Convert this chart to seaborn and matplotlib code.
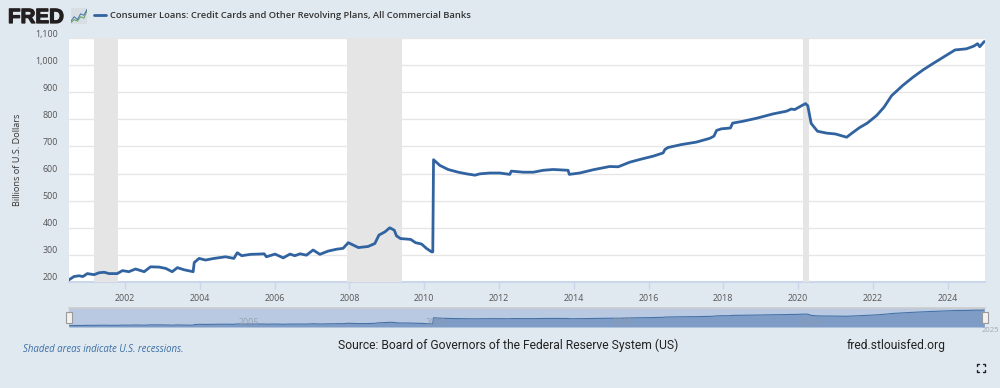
import pandas as pd
import seaborn as sns
import matplotlib
matplotlib.use('Agg')
import matplotlib.pyplot as plt
import matplotlib.patheffects as pe
from matplotlib.patches import Rectangle
from matplotlib.transforms import ScaledTranslation

# values, year as decimal
years = [2000.5, 2000.63, 2000.77, 2000.87, 2000.99, 2001.17, 2001.30, 2001.44, 2001.57, 2001.79,
         2001.93, 2002.10, 2002.28, 2002.51, 2002.68, 2002.91, 2003.09, 2003.26, 2003.40, 2003.58,
         2003.82, 2003.85, 2003.98, 2004.15, 2004.38, 2004.69, 2004.91, 2005.0, 2005.12, 2005.36,
         2005.58, 2005.72, 2005.78, 2006.01, 2006.23, 2006.41, 2006.54, 2006.68, 2006.85, 2007.03,
         2007.21, 2007.43, 2007.66, 2007.83, 2007.97, 2008.24, 2008.5, 2008.68, 2008.79, 2008.95,
         2009.08, 2009.2, 2009.26, 2009.37, 2009.48, 2009.64, 2009.77, 2009.93, 2010.06, 2010.2,
         2010.23, 2010.25, 2010.42, 2010.64, 2010.91, 2011.13, 2011.36, 2011.49, 2011.76, 2012.02,
         2012.29, 2012.33, 2012.65, 2012.92, 2013.18, 2013.45, 2013.85, 2013.88, 2014.16, 2014.52,
         2014.96, 2015.19, 2015.5, 2015.77, 2016.12, 2016.39, 2016.44, 2016.52, 2016.88, 2017.28,
         2017.64, 2017.75, 2017.82, 2017.95, 2018.19, 2018.25, 2018.53, 2018.89, 2019.33, 2019.69,
         2019.82, 2019.91, 2020.13, 2020.2, 2020.26, 2020.35, 2020.52, 2020.77, 2021.0, 2021.3,
         2021.45, 2021.65, 2021.85, 2022.1, 2022.3, 2022.5, 2022.8, 2023.07, 2023.35, 2023.6,
         2023.87, 2024.2, 2024.5, 2024.7, 2024.8, 2024.86, 2024.98]
loans = [208, 220, 223, 220, 231, 227, 234, 236, 231, 231,
         242, 238, 248, 238, 256, 255, 250, 238, 253, 245,
         238, 272, 287, 281, 287, 293, 287, 308, 297, 302,
         303, 304, 293, 303, 289, 303, 297, 304, 299, 318,
         302, 314, 321, 324, 345, 327, 331, 342, 373, 385,
         400, 391, 370, 360, 359, 357, 345, 340, 324, 311,
         311, 651, 630, 615, 605, 599, 594, 599, 602, 602,
         597, 609, 605, 605, 612, 615, 612, 597, 602, 614,
         626, 625, 642, 652, 664, 676, 689, 696, 707, 716,
         730, 738, 759, 765, 768, 786, 793, 804, 820, 830,
         838, 836, 853, 858, 850, 785, 756, 749, 746, 734,
         750, 770, 786, 814, 845, 887, 925, 955, 983, 1005,
         1028, 1056, 1060, 1070, 1079, 1068, 1087]
recessions = [(2001.17, 2001.81), (2007.93, 2009.42), (2020.12, 2020.3)]
year_ticks = list(range(2002, 2025, 2))
value_ticks = list(range(200, 1101, 100))
nav_years = [2005, 2010, 2015, 2020]
series_name = 'Consumer Loans: Credit Cards and Other Revolving Plans, All Commercial Banks'

df = pd.DataFrame({'year': years, 'loans': loans})

W, H = 1000, 388
BG = '#e1e9f0'
LINE = '#30639f'
AXIS = '#ccd6eb'


def box(x0, y0, x1, y1):
    # pixel box from the top left to figure fractions
    return [x0 / W, 1 - y1 / H, (x1 - x0) / W, (y1 - y0) / H]


sns.set_theme(style='white')
plt.rcParams['font.family'] = ['Open Sans', 'DejaVu Sans']

fig = plt.figure(figsize=(10, 3.88), dpi=100, facecolor=BG)

# main chart
ax = fig.add_axes(box(69, 38, 985, 282), facecolor='white')
sns.lineplot(data=df, x='year', y='loans', ax=ax, color=LINE, linewidth=2, label=series_name,
             estimator=None, sort=False, zorder=4)
for start, end in recessions:
    ax.axvspan(start, end, color='#e5e5e5', lw=0, zorder=3)
ax.set_xlim(2000.5, 2025.0)
ax.set_ylim(200, 1100)
ax.set_xticks(year_ticks)
ax.set_yticks(value_ticks)
ax.set_yticklabels([f'{v:,}' for v in value_ticks])
ax.set_xlabel('')
ax.set_ylabel('Billions of U.S. Dollars', fontsize=6.6, color='#333333', labelpad=0)
ax.yaxis.set_label_coords(-47 / 916, 0.5)
ax.grid(axis='y', color='#e6e6e6', lw=1)
ax.set_axisbelow(True)
ax.tick_params(axis='x', length=5, width=1, color=AXIS, labelsize=6.4, labelcolor='#555555', pad=3.5, bottom=True)
ax.tick_params(axis='y', length=0, labelsize=6.4, labelcolor='#555555', pad=8)
for lab in ax.get_yticklabels():
    lab.set_transform(lab.get_transform() + ScaledTranslation(0, 3.6 / 72, fig.dpi_scale_trans))
for side in ['top', 'left', 'right']:
    ax.spines[side].set_visible(False)
ax.spines['bottom'].set_color(AXIS)
ax.spines['bottom'].set_linewidth(1.5)

ax.legend(loc='center left', bbox_to_anchor=(94 / W, 1 - 16 / H), bbox_transform=fig.transFigure,
          frameon=False, handlelength=1.27, handletextpad=0.42, borderpad=0, borderaxespad=0,
          labelcolor='#333333', prop={'size': 6.75, 'weight': 600})

# navigator strip
nav = fig.add_axes(box(69, 308, 985, 327), facecolor='#b9c9e1')
nav.fill_between(years, loans, 137, color='#7f9cc7', lw=0)
sns.lineplot(data=df, x='year', y='loans', ax=nav, color='#4572a7', linewidth=0.8, estimator=None, sort=False,
             legend=False)
nav.set_xlim(2000.5, 2025.0)
nav.set_ylim(137, 1197)
nav.set_xticks([])
nav.set_yticks([])
nav.set_xlabel('')
nav.set_ylabel('')
for side in nav.spines:
    nav.spines[side].set_visible(False)
nav.spines['top'].set_visible(True)
nav.spines['top'].set_color('#cccccc')
nav.spines['top'].set_linewidth(1.2)
for y in nav_years:
    nav.text(y + 0.3, 0.25, str(y), transform=nav.get_xaxis_transform(), ha='center', va='center',
             fontsize=6.4, color='#8d99a8', alpha=0.8)
fig.text(999 / W, 1 - 330 / H, '2025', fontsize=5.5, color='#8d99a8', alpha=0.8, ha='right', va='center')
for px in [68.5, 985]:
    fig.add_artist(Rectangle(((px - 3) / W, 1 - 323 / H), 6 / W, 11 / H, transform=fig.transFigure,
                             facecolor='#f2f2f2', edgecolor='#999999', lw=0.8))

# logo
fig.text(8 / W, 1 - 23 / H, 'FRED', family='Liberation Sans', fontsize=14.8, fontweight='bold', color='#231f20',
         ha='left', va='baseline', path_effects=[pe.withStroke(linewidth=0.9, foreground='#231f20')])
logo = fig.add_axes(box(71, 8, 87, 24), facecolor='#d5dbe0')
logo.fill_between([0, 10], [0, 0], [11, 11], color='#d5dbe0', lw=0, alpha=0.7)
logo.plot([0, 2, 4, 6, 8, 10], [1, 3, 2, 5, 4, 9], color='#5f9f5a', lw=0.7)
logo.plot([0, 2, 4, 6, 8, 10], [2, 5, 3, 7, 6, 10], color='#4572a7', lw=0.7)
logo.set_xlim(0, 10)
logo.set_ylim(0, 11)
logo.axis('off')

# footer
fig.text(23 / W, 1 - 350 / H, 'Shaded areas indicate U.S. recessions.', fontsize=6.9, style='italic',
         color='#3a6ea5', ha='left', va='center')
fig.text(338 / W, 1 - 345 / H, 'Source: Board of Governors of the Federal Reserve System (US)', family='Roboto',
         fontsize=8.7, color='#222222', ha='left', va='center')
fig.text(847 / W, 1 - 345 / H, 'fred.stlouisfed.org', family='Roboto', fontsize=8.7, color='#222222',
         ha='left', va='center')

# fullscreen icon
cx, cy = 981, 368
for sx, sy in [(-1, -1), (1, -1), (-1, 1), (1, 1)]:
    xs = [(cx + sx * 4) / W, (cx + sx * 4) / W, (cx + sx * 2) / W]
    ys = [1 - (cy + sy * 2) / H, 1 - (cy + sy * 4) / H, 1 - (cy + sy * 4) / H]
    fig.add_artist(plt.Line2D(xs, ys, color='#222222', lw=1, transform=fig.transFigure))

fig.savefig('out.png', dpi=100, facecolor=BG)
